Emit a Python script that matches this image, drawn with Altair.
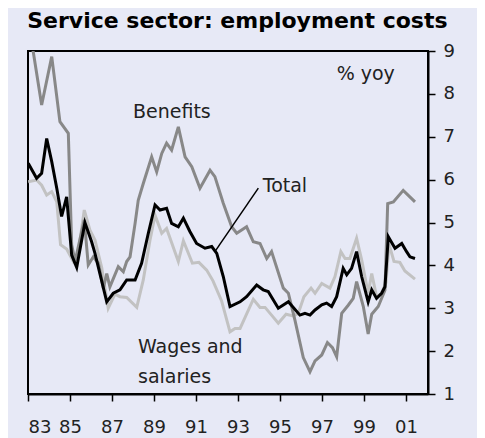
import altair as alt
import pandas as pd

# ---------------- data ----------------
total_years = [1983.01, 1983.41, 1983.65, 1983.89, 1984.13, 1984.37, 1984.60, 1984.84,
               1985.08, 1985.32, 1985.71, 1986.03, 1986.19, 1986.75, 1987.06, 1987.38,
               1987.70, 1988.10, 1988.41, 1988.73, 1989.05, 1989.29, 1989.60, 1989.84,
               1990.16, 1990.40, 1990.71, 1991.03, 1991.43, 1991.75, 1991.99, 1992.30,
               1992.62, 1993.10, 1993.41, 1993.89, 1994.20, 1994.44, 1994.92, 1995.40,
               1995.95, 1996.19, 1996.43, 1996.67, 1996.99, 1997.22, 1997.46, 1997.70,
               1998.01, 1998.18, 1998.41, 1998.65, 1998.89, 1999.20, 1999.37, 1999.60,
               1999.84, 2000.00, 2000.16, 2000.48, 2000.80, 2001.03, 2001.19, 2001.43]
total_values = [6.38, 6.03, 6.15, 6.96, 6.42, 5.80, 5.14, 5.60,
                4.24, 3.95, 5.00, 4.55, 4.28, 3.15, 3.35, 3.43,
                3.66, 3.66, 4.05, 4.75, 5.41, 5.29, 5.33, 4.98,
                4.90, 5.10, 4.79, 4.51, 4.40, 4.44, 4.28, 3.74,
                3.04, 3.15, 3.27, 3.54, 3.43, 3.39, 3.00, 3.15,
                2.84, 2.88, 2.84, 2.96, 3.08, 3.12, 3.04, 3.27,
                3.93, 3.78, 3.93, 4.32, 3.74, 3.15, 3.43, 3.23,
                3.35, 3.50, 4.67, 4.40, 4.51, 4.32, 4.20, 4.16]

benefits_years = [1983.00, 1983.25, 1983.65, 1984.13, 1984.52, 1984.92, 1985.08, 1985.24,
                  1985.68, 1985.87, 1986.11, 1986.35, 1986.59, 1986.75, 1986.90, 1987.30,
                  1987.54, 1987.70, 1987.86, 1988.10, 1988.25, 1988.49, 1988.89, 1989.13,
                  1989.37, 1989.60, 1989.84, 1990.16, 1990.48, 1990.80, 1991.19, 1991.67,
                  1991.90, 1992.30, 1992.70, 1992.94, 1993.41, 1993.73, 1994.05, 1994.37,
                  1994.60, 1995.16, 1995.40, 1995.71, 1996.11, 1996.43, 1996.67, 1996.99,
                  1997.26, 1997.50, 1997.70, 1997.94, 1998.25, 1998.49, 1998.65, 1998.97,
                  1999.20, 1999.37, 1999.68, 2000.00, 2000.13, 2000.40, 2000.87, 2001.43]
benefits_values = [9.50, 8.98, 7.74, 8.87, 7.35, 7.08, 4.48, 4.09,
                   5.06, 4.01, 4.20, 4.05, 3.47, 3.81, 3.50, 3.97,
                   3.85, 4.09, 4.20, 4.98, 5.52, 5.91, 6.53, 6.18,
                   6.61, 6.85, 6.69, 7.23, 6.53, 6.30, 5.80, 6.22,
                   6.07, 5.45, 4.90, 4.75, 4.90, 4.55, 4.51, 4.16,
                   4.32, 3.47, 3.35, 2.73, 1.85, 1.52, 1.77, 1.91,
                   2.20, 2.08, 1.87, 2.88, 3.07, 3.23, 3.62, 3.04,
                   2.40, 2.86, 3.04, 3.42, 5.44, 5.48, 5.75, 5.48]

wages_years = [1983.01, 1983.41, 1983.65, 1983.89, 1984.13, 1984.37, 1984.55, 1984.84,
               1985.16, 1985.40, 1985.68, 1985.95, 1986.19, 1986.51, 1986.82, 1987.14,
               1987.38, 1987.70, 1988.18, 1988.49, 1988.81, 1989.05, 1989.37, 1989.60,
               1990.16, 1990.40, 1990.83, 1991.14, 1991.51, 1991.81, 1992.22, 1992.62,
               1992.86, 1993.10, 1993.73, 1994.05, 1994.29, 1994.60, 1994.92, 1995.29,
               1995.63, 1995.87, 1996.14, 1996.48, 1996.67, 1996.99, 1997.38, 1997.62,
               1997.90, 1998.10, 1998.33, 1998.65, 1998.89, 1999.20, 1999.37, 1999.60,
               1999.84, 2000.05, 2000.19, 2000.43, 2000.71, 2000.95, 2001.43]
wages_values = [5.95, 5.99, 5.87, 5.64, 5.72, 5.48, 4.48, 4.38,
                4.09, 4.32, 5.29, 4.82, 4.59, 3.95, 3.00, 3.33,
                3.27, 3.25, 3.02, 3.66, 4.59, 5.17, 4.75, 4.86,
                4.09, 4.57, 4.05, 4.07, 3.89, 3.64, 3.17, 2.45,
                2.53, 2.53, 3.21, 3.02, 3.02, 2.84, 2.65, 2.86,
                2.82, 2.88, 3.27, 3.47, 3.35, 3.58, 3.47, 3.74,
                4.32, 4.16, 4.16, 4.63, 4.13, 3.35, 3.81, 3.27,
                3.35, 3.60, 4.50, 4.09, 4.07, 3.87, 3.68]

x_ticks = [1983, 1985, 1987, 1989, 1991, 1993, 1995, 1997, 1999, 2001]
y_ticks = [1, 2, 3, 4, 5, 6, 7, 8, 9]

label_text = ["Benefits", "Total", "% yoy", "Wages and", "salaries"]
label_x = [1988.0, 1994.18, 1997.70, 1988.24, 1988.24]
label_y = [7.44, 5.72, 8.32, 1.96, 1.26]

pointer_x = [1991.9]
pointer_x2 = [1993.97]
pointer_y = [4.32]
pointer_y2 = [5.80]

# ---------------- chart ----------------
FONT = "DejaVu Sans"
xscale = alt.Scale(domain=[1983, 2002.05], nice=False, zero=False)
yscale = alt.Scale(domain=[1, 9], nice=False, zero=False)

xaxis = alt.Axis(values=x_ticks, labelExpr="substring(toString(datum.value), 2, 4)",
                 title=None, grid=False, domainColor="black", domainWidth=2,
                 tickColor="black", tickWidth=1.5, tickSize=7, labelPadding=17,
                 labelFont=FONT, labelFontSize=18, labelColor="#222222")
yaxis = alt.Axis(values=y_ticks, orient="right", title=None, grid=False,
                 domainColor="black", domainWidth=2, tickColor="black", tickWidth=1.5,
                 tickSize=7, labelPadding=8, labelFont=FONT, labelFontSize=18,
                 labelColor="#222222")


def series_layer(years, values, color):
    df = pd.DataFrame({"year": years, "value": values})
    return alt.Chart(df).mark_line(color=color, strokeWidth=3, clip=True).encode(
        x=alt.X("year:Q", scale=xscale, axis=xaxis),
        y=alt.Y("value:Q", scale=yscale, axis=yaxis),
    )


wages = series_layer(wages_years, wages_values, "#c2c2c2")
benefits = series_layer(benefits_years, benefits_values, "#888888")
total = series_layer(total_years, total_values, "#000000")

pointer_df = pd.DataFrame({"x": pointer_x, "x2": pointer_x2, "y": pointer_y, "y2": pointer_y2})
pointer = alt.Chart(pointer_df).mark_rule(color="black", strokeWidth=1.5).encode(
    x=alt.X("x:Q", scale=xscale), x2="x2:Q",
    y=alt.Y("y:Q", scale=yscale), y2="y2:Q",
)

labels_df = pd.DataFrame({"text": label_text, "x": label_x, "y": label_y})
labels = alt.Chart(labels_df).mark_text(
    align="left", baseline="alphabetic", font=FONT, fontSize=19, color="#222222"
).encode(
    x=alt.X("x:Q", scale=xscale),
    y=alt.Y("y:Q", scale=yscale),
    text="text:N",
)

chart = alt.layer(wages, benefits, total, pointer, labels).properties(
    width=400,
    height=343,
    title=alt.TitleParams(
        "Service sector: employment costs", anchor="start", font=FONT, fontSize=22,
        fontWeight="bold", color="black", offset=9,
    ),
    autosize=alt.AutoSizeParams(type="none"),
    padding={"left": 20, "top": 43, "right": 49, "bottom": 44},
    background="#e7e9f6",
).configure_view(stroke="black", strokeWidth=2)

chart.save("out.html", embed_options={"renderer": "svg", "actions": False})
